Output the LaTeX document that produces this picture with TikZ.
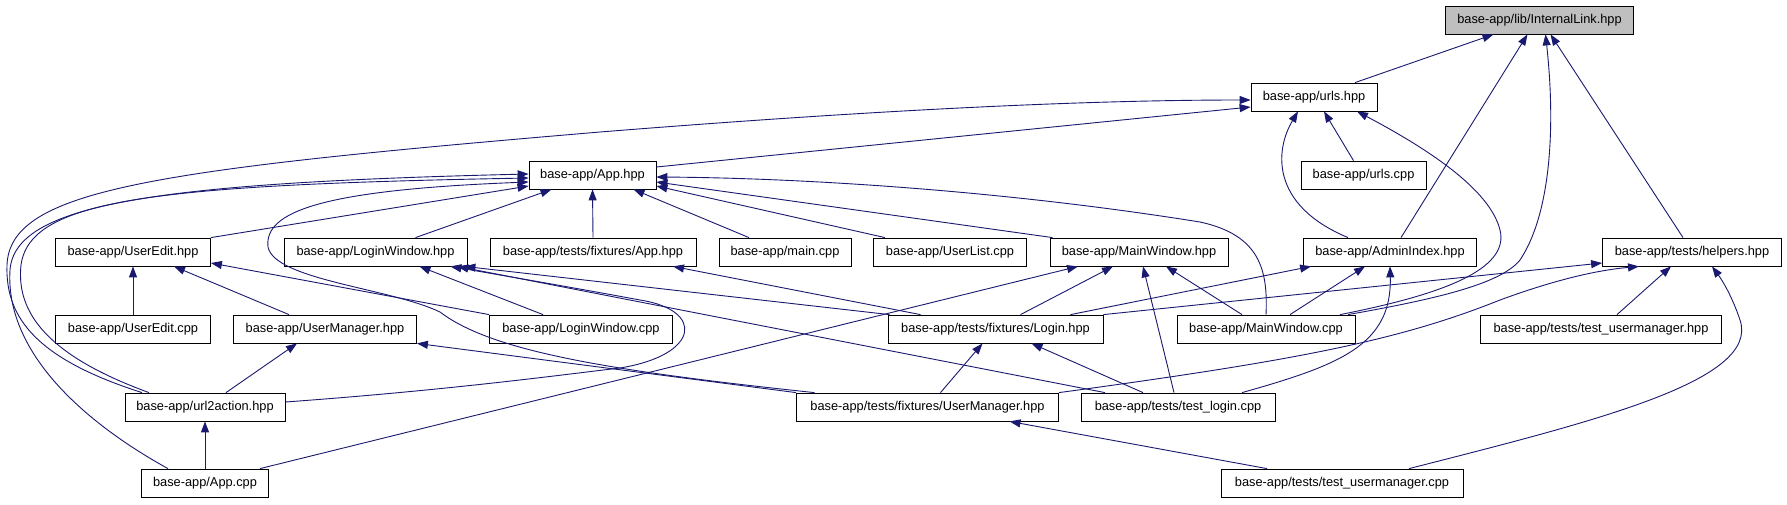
\documentclass[tikz,border=0pt]{standalone}
\usepackage{fontspec}
\setmainfont{Liberation Sans}
\usetikzlibrary{arrows.meta}
\definecolor{edgeblue}{HTML}{191970}
\definecolor{rootgray}{HTML}{BFBFBF}
\tikzset{
  filebox/.style={draw=black, line width=0.8pt, fill=white, minimum height=28pt, inner sep=0pt, anchor=center, font=\fontsize{12.8pt}{14pt}\selectfont},
  rootbox/.style={filebox, fill=rootgray},
  dep/.style={draw=edgeblue, line width=0.9pt, -{Triangle[length=11pt,width=8pt]}, fill=none}
}
\begin{document}
\begin{tikzpicture}[x=1pt,y=-1pt]
\fill[white] (0,0) rectangle (1787,504);
\useasboundingbox (0,0) rectangle (1787,504);
% nodes
\node[rootbox, minimum width=188pt] (IL) at (1539.5,20) {base-app/lib/InternalLink.hpp};
\node[filebox, minimum width=126pt] (urlsh) at (1314,97) {base-app/urls.hpp};
\node[filebox, minimum width=127pt] (Apph) at (592.5,175) {base-app/App.hpp};
\node[filebox, minimum width=125pt] (urlsc) at (1363.5,175) {base-app/urls.cpp};
\node[filebox, minimum width=155pt] (UEh) at (133,252) {base-app/UserEdit.hpp};
\node[filebox, minimum width=183pt] (LWh) at (375.5,252) {base-app/LoginWindow.hpp};
\node[filebox, minimum width=206pt] (fApp) at (593,252) {base-app/tests/fixtures/App.hpp};
\node[filebox, minimum width=132pt] (mainc) at (785,252) {base-app/main.cpp};
\node[filebox, minimum width=153pt] (ULc) at (950,252) {base-app/UserList.cpp};
\node[filebox, minimum width=178pt] (MWh) at (1139,252) {base-app/MainWindow.hpp};
\node[filebox, minimum width=173pt] (AIh) at (1390,252) {base-app/AdminIndex.hpp};
\node[filebox, minimum width=179pt] (helpers) at (1692,252) {base-app/tests/helpers.hpp};
\node[filebox, minimum width=155pt] (UEc) at (133,329) {base-app/UserEdit.cpp};
\node[filebox, minimum width=183pt] (UMh) at (325,329) {base-app/UserManager.hpp};
\node[filebox, minimum width=183pt] (LWc) at (581,329) {base-app/LoginWindow.cpp};
\node[filebox, minimum width=215pt] (fLogin) at (995.5,329) {base-app/tests/fixtures/Login.hpp};
\node[filebox, minimum width=178pt] (MWc) at (1266,329) {base-app/MainWindow.cpp};
\node[filebox, minimum width=241pt] (tumh) at (1601,329) {base-app/tests/test\_usermanager.hpp};
\node[filebox, minimum width=160pt] (u2a) at (205,407) {base-app/url2action.hpp};
\node[filebox, minimum width=262pt] (fUM) at (927.5,407) {base-app/tests/fixtures/UserManager.hpp};
\node[filebox, minimum width=194pt] (tlc) at (1178,407) {base-app/tests/test\_login.cpp};
\node[filebox, minimum width=127pt] (Appc) at (205,483) {base-app/App.cpp};
\node[filebox, minimum width=242pt] (tumc) at (1342,483) {base-app/tests/test\_usermanager.cpp};
% InternalLink.hpp
\draw[dep] ([xshift=41pt]urlsh.north) -- ([xshift=-46pt]IL.south);
\draw[dep] ([xshift=11pt]AIh.north) -- ([xshift=-12pt]IL.south);
\draw[dep] ([xshift=82pt]MWc.north) .. controls (1430,300) and (1500,285) .. (1520,260) .. controls (1550,215) and (1556,130) .. ([xshift=6pt]IL.south);
\draw[dep] ([xshift=-9pt]helpers.north) -- ([xshift=11pt]IL.south);
% urls.hpp
\draw[dep] ([yshift=8pt]Apph.east) -- ([yshift=-10pt]urlsh.west);
\draw[dep] ([xshift=-63pt]u2a.north) .. controls (40,360) and (5,320) .. (7,265) .. controls (10,190) and (150,170) .. (600,132) .. controls (900,108) and (1100,100) .. ([yshift=-3pt]urlsh.west);
\draw[dep] ([xshift=-10pt]urlsc.north) -- ([xshift=10pt]urlsh.south);
\draw[dep] ([xshift=-42pt]AIh.north) .. controls (1270,205) and (1275,150) .. ([xshift=-16pt]urlsh.south);
\draw[dep] ([xshift=74pt]MWc.north) .. controls (1440,295) and (1510,270) .. (1500,230) .. controls (1490,190) and (1430,150) .. ([xshift=43pt]urlsh.south);
% App.hpp
\draw[dep] (UEh.north east) -- ([yshift=-11pt]Apph.west);
\draw[dep] ([xshift=40pt]LWh.north) -- ([xshift=-41pt]Apph.south);
\draw[dep] (fApp.north) -- (Apph.south);
\draw[dep] ([xshift=-36pt]mainc.north) -- ([xshift=41pt]Apph.south);
\draw[dep] ([xshift=-65pt]ULc.north) -- ([yshift=-11pt]Apph.east);
\draw[dep] ([xshift=3pt]MWh.north west) -- ([yshift=-7pt]Apph.east);
\draw[dep] (MWc.north) .. controls (1268,270) and (1260,235) .. (1200,222) .. controls (1000,190) and (800,178) .. ([yshift=-2pt]Apph.east);
\draw[dep] ([xshift=-56pt]u2a.north) .. controls (60,360) and (15,320) .. (21,265) .. controls (30,200) and (150,185) .. ([yshift=-3pt]Apph.west);
\draw[dep] ([xshift=-37pt]Appc.north) .. controls (80,420) and (5,350) .. (10,270) .. controls (15,205) and (150,183) .. ([yshift=1pt]Apph.west);
\draw[dep] ([xshift=-113pt]fUM.north) .. controls (600,370) and (490,350) .. (440,312) .. controls (390,288) and (275,280) .. (268,247) .. controls (264,212) and (320,190) .. ([yshift=-7pt]Apph.west);
% LoginWindow.hpp
\draw[dep] ([xshift=-38pt]LWc.north) -- ([xshift=44pt]LWh.south);
\draw[dep] ([xshift=-106pt]fLogin.north) -- ([xshift=-3pt]LWh.south east);
\draw[dep] ([xshift=-73pt]tlc.north) -- ([xshift=-10pt]LWh.south east);
\draw[dep] ([yshift=5pt]u2a.east) .. controls (450,390) and (560,375) .. (620,368) .. controls (700,355) and (705,310) .. (640,300) .. controls (570,287) and (500,275) .. ([xshift=-17pt]LWh.south east);
% UserEdit.hpp
\draw[dep] (UEc.north) -- (UEh.south);
\draw[dep] ([xshift=-36pt]UMh.north) -- ([xshift=41pt]UEh.south);
\draw[dep] (LWc.north west) -- ([yshift=-11pt]UEh.east);
% UserManager.hpp
\draw[dep] ([xshift=21pt]u2a.north) -- ([xshift=-28pt]UMh.south);
\draw[dep] (fUM.north west) -- (UMh.south east);
% MainWindow.hpp
\draw[dep] ([xshift=55pt]Appc.north) -- ([xshift=-61pt]MWh.south);
\draw[dep] ([xshift=25pt]fLogin.north) -- ([xshift=-26pt]MWh.south);
\draw[dep] ([xshift=-4pt]tlc.north) -- ([xshift=4pt]MWh.south);
\draw[dep] ([xshift=-24pt]MWc.north) -- ([xshift=27pt]MWh.south);
% AdminIndex.hpp
\draw[dep] ([xshift=75pt]fLogin.north) -- ([xshift=8pt]AIh.south west);
\draw[dep] ([xshift=24pt]MWc.north) -- ([xshift=-25pt]AIh.south);
\draw[dep] ([xshift=64pt]tlc.north) .. controls (1340,365) and (1392,345) .. (AIh.south);
% helpers.hpp
\draw[dep] (fLogin.north east) -- ([yshift=-11pt]helpers.west);
\draw[dep] (fUM.north east) .. controls (1300,360) and (1400,340) .. (1500,300) .. controls (1560,278) and (1600,270) .. ([xshift=-53pt]helpers.south);
\draw[dep] ([xshift=16pt]tumh.north) -- ([xshift=-21pt]helpers.south);
\draw[dep] ([xshift=67pt]tumc.north) .. controls (1600,420) and (1760,380) .. (1740,320) .. controls (1732,296) and (1722,280) .. ([xshift=20pt]helpers.south);
% fixtures/Login.hpp
\draw[dep] ([xshift=13pt]fUM.north) -- ([xshift=-13pt]fLogin.south);
\draw[dep] ([xshift=-35pt]tlc.north) -- ([xshift=36pt]fLogin.south);
% fixtures/App.hpp
\draw[dep] ([xshift=-75pt]fLogin.north) -- ([xshift=80pt]fApp.south);
% fixtures/UserManager.hpp
\draw[dep] ([xshift=-75pt]tumc.north) -- ([xshift=82pt]fUM.south);
% url2action.hpp
\draw[dep] (Appc.north) -- (u2a.south);
\end{tikzpicture}
\end{document}
